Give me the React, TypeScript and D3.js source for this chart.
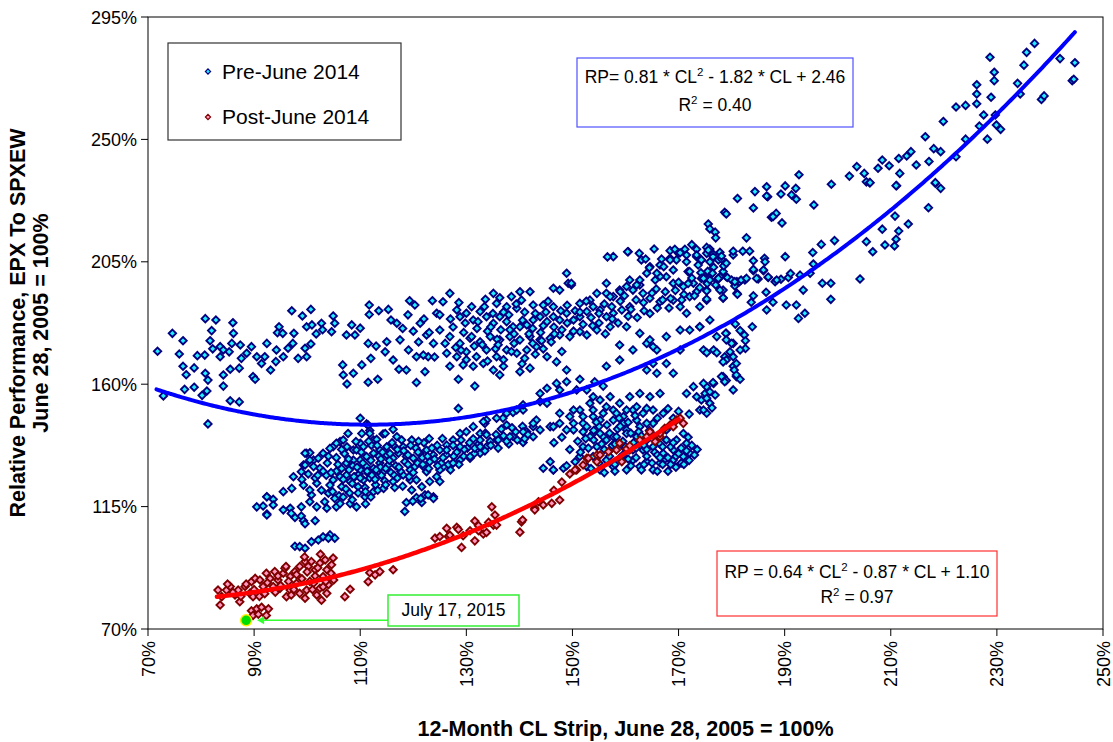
import React from "react";
import * as d3 from "d3";

// ---------- DATA (percent units) ----------
const preJune2014: [number, number][] = [
  [71.8,172.1],[74.6,178.7],[76.6,176.0],[75.9,171.1],[76.6,166.6],[77.2,163.5],[78.7,166.0],[76.9,158.1],[78.7,158.9],[80.2,155.9],
  [81.1,157.5],[81.3,145.4],[80.8,184.1],[82.8,183.6],[86.0,182.6],[82.0,179.7],[81.7,176.0],[82.2,173.0],[83.6,173.8],[79.3,170.5],
  [80.7,170.7],[83.6,170.1],[84.2,172.6],[85.3,171.9],[86.1,178.7],[85.8,175.0],[87.4,174.4],[80.8,164.0],[81.3,161.5],[84.2,163.4],
  [85.5,165.5],[84.2,159.3],[85.5,153.9],[87.2,153.5],[87.2,165.9],[87.6,169.5],[88.6,171.4],[89.5,173.8],[90.5,170.1],[89.8,162.8],
  [90.2,161.8],[91.4,167.6],[92.0,170.1],[92.4,175.0],[93.1,165.2],[94.2,172.6],[94.1,168.3],[94.7,181.1],[94.4,178.9],[95.4,178.7],
  [95.5,170.1],[96.4,173.2],[97.1,187.0],[99.1,185.1],[100.7,187.5],[97.5,178.7],[97.3,175.0],[98.3,169.5],[99.6,173.2],[99.9,170.1],
  [100.7,174.8],[99.9,181.1],[100.9,181.8],[101.7,178.5],[102.7,182.4],[102.9,180.0],[104.9,185.1],[105.2,182.4],[104.6,179.3],[107.4,178.1],
  [108.4,181.8],[109.0,178.1],[110.0,180.6],[106.7,167.1],[106.8,163.4],[107.5,160.1],[108.7,164.0],[110.3,167.1],[111.5,175.0],[112.0,169.5],
  [111.7,189.1],[111.7,185.6],[113.5,187.0],[115.3,187.5],[113.0,174.0],[114.7,171.9],[116.2,168.9],[111.5,160.7],[113.3,161.8],[115.0,175.6],
  [115.8,183.6],[116.9,182.4],[119.3,190.7],[120.3,189.1],[117.5,176.3],[119.1,172.6],[117.3,165.5],[118.7,165.2],[120.6,160.6],[122.2,164.6],
  [122.8,170.1],[123.8,175.0],[121.3,182.4],[122.5,178.1],[123.6,190.7],[124.4,186.1],[120.6,170.1],[121.9,170.7],[110.0,147.5],[111.2,145.4],
  [111.8,143.0],[114.3,141.7],[116.2,143.4],[107.7,141.9],[72.9,155.7],[99.9,134.6],[101.2,132.1],[103.0,134.6],[104.9,137.0],[106.2,138.9],
  [108.7,135.8],[110.0,138.3],[112.5,139.5],[97.4,126.0],[99.3,130.3],
  [128.5,151.1],[111.5,145.0],[109.2,138.9],[110.3,141.9],[111.8,141.9],[113.1,139.7],[114.7,141.9],[116.9,140.7],[119.7,139.5],[106.8,139.5],
  [105.5,138.3],[104.3,136.4],[102.1,132.8],[100.5,134.8],[99.6,134.6],[100.5,132.1],[99.6,130.3],[101.2,129.7],[102.4,129.1],[98.9,127.8],
  [97.1,121.7],[95.5,120.5],[92.4,118.6],[93.6,117.7],[90.5,114.9],[91.7,115.2],[93.6,115.6],[92.4,112.3],[96.8,114.4],[97.7,111.0],
  [98.9,111.5],[99.3,109.8],[101.5,109.8],[98.9,114.9],[100.5,116.8],[100.8,119.3],[101.8,114.9],[99.3,122.9],[100.5,121.1],[101.8,123.6],
  [103.3,116.8],[104.0,119.9],[103.7,114.4],[105.5,114.9],[106.2,116.1],[108.1,116.1],[109.3,114.9],[110.9,118.6],[112.5,120.5],[114.4,121.7],
  [116.2,124.2],[118.1,126.6],[119.4,128.5],[104.3,122.9],[104.9,124.8],[106.2,126.0],[107.4,126.6],[106.5,122.3],[108.1,124.2],[109.0,126.0],
  [109.6,122.3],[110.6,124.8],[111.5,127.3],[111.2,129.7],[112.5,129.1],[113.7,131.0],[113.1,126.0],[114.4,127.8],[115.3,130.3],[116.2,132.8],
  [117.2,134.6],[115.0,134.0],[113.7,135.8],[112.5,134.6],[111.2,133.4],[110.0,132.1],[108.7,132.1],[107.4,131.0],[109.3,135.8],[110.6,137.0],
  [112.1,137.6],[115.0,137.0],[116.2,137.6],[118.1,137.0],[118.7,133.4],[120.0,132.8],[121.3,134.6],[122.5,135.8],[123.8,134.0],[125.0,135.8],
  [126.3,137.6],[127.5,139.5],[128.8,141.9],[130.0,142.5],[131.3,139.9],[132.6,141.9],[133.5,145.6],[133.8,146.8],[136.9,147.5],[137.6,145.0],
  [138.8,149.6],[138.8,140.8],[140.7,138.6],[141.4,142.5],[142.6,144.4],[143.2,146.8],[142.6,140.7],[135.7,139.5],[133.8,137.0],[132.6,134.6],
  [130.7,132.8],[128.8,132.1],[127.5,131.0],[125.7,129.7],[123.1,131.5],[121.9,129.7],[120.3,129.7],[122.5,127.8],[119.4,124.8],[120.6,124.8],
  [121.6,122.3],[123.1,124.2],[125.0,124.2],[119.7,121.1],[120.6,118.3],[121.6,116.5],[118.7,116.5],[118.4,113.2],[123.8,118.6],[122.2,119.3],
  [125.0,128.5],[124.4,126.0],[140.7,150.5],[97.7,100.4],[98.6,100.3],[99.6,99.7],[100.8,102.1],[102.1,102.7],[103.0,103.9],[104.3,104.6],
  [105.2,103.4],[104.0,103.4],[92.4,111.9],[92.4,118.6],[95.5,113.8],[97.0,112.5],[99.6,108.7],[119.9,117.0],[121.4,118.0],[122.8,119.3],
  [123.8,118.0],
  [105.5,128.0],[106.8,125.0],[107.9,128.5],[108.5,123.5],[109.8,127.0],[110.9,122.0],[111.8,125.5],[112.9,123.0],[113.8,129.5],[114.6,124.5],
  [115.8,127.5],[116.7,130.0],[117.6,128.0],[118.4,131.5],[119.2,126.0],[120.8,131.0],[121.7,133.0],[122.9,129.0],[124.0,132.5],[125.3,131.0],
  [126.2,134.0],[127.0,128.5],[128.2,135.0],[129.5,133.5],[130.2,136.5],[131.5,134.5],[132.3,138.0],[133.5,135.5],[134.5,139.0],[136.0,136.5],
  [137.0,141.0],[138.0,138.0],[139.3,142.5],[141.0,140.0],[103.6,126.5],[104.8,120.5],[106.0,119.0],[107.3,121.5],[108.5,117.5],[109.6,120.0],
  [111.0,116.0],[112.0,118.5],[113.3,121.0],[114.0,126.5],[102.7,121.0],[101.5,125.5],[100.2,127.0],[99.0,125.0],[103.8,131.0],[105.5,133.0],
  [107.0,134.5],[108.6,130.0],[110.0,128.6],[112.0,132.0],[113.5,133.5],[115.5,132.0],[117.0,136.0],[119.0,134.0],[120.5,136.5],[122.0,138.5],
  [124.5,137.5],[125.5,140.0],[127.5,137.5],[129.0,139.5],
  [104.5,127.5],[105.8,130.5],[106.5,129.0],[107.8,132.5],[108.8,126.0],[109.4,129.5],[110.5,131.0],[111.3,128.0],[112.2,126.5],[113.0,128.5],
  [113.9,132.5],[114.8,129.0],[115.6,134.5],[116.4,126.5],[117.3,129.5],[118.2,135.5],[119.0,130.5],[120.0,127.5],[120.9,135.0],[121.8,130.5],
  [122.7,133.5],[123.5,136.5],[124.6,130.0],[125.6,133.0],[126.6,130.5],[127.6,133.5],[128.6,130.5],[129.6,136.0],[130.6,138.5],[131.6,136.5],
  [132.6,139.5],[133.6,142.0],[134.6,137.5],[135.6,141.5],[136.6,143.5],[137.6,139.0],[138.6,144.0],[139.6,139.5],[140.6,144.5],[141.6,141.5],
  [110.2,135.0],[111.6,139.0],[113.2,137.5],[114.2,135.0],[116.0,138.5],[117.8,139.5],[119.5,137.5],[121.0,139.0],[123.0,140.0],[103.0,128.0],
  [102.0,126.5],[104.0,133.5],[106.5,136.0],[107.5,137.0],[108.0,120.0],[110.0,125.5],[111.0,120.5],[112.8,125.0],[114.8,123.0],[116.5,122.0],
  [117.0,125.5],[118.0,122.5],[105.2,118.0],[106.8,118.5],
  [157.7,206.9],[160.5,208.7],[162.6,208.1],[163.0,205.7],[164.6,203.2],[166.5,203.8],[168.4,206.3],[170.0,208.1],[171.5,205.0],[173.4,206.9],
  [175.3,208.1],[177.5,205.7],[180.3,207.5],[171.8,201.4],[173.7,203.8],[175.9,200.8],[178.4,201.4],[164.0,200.8],[165.6,198.3],[167.7,199.5],
  [169.0,197.1],[170.9,195.9],[172.8,197.1],[174.7,199.5],[177.2,198.3],[179.0,199.5],[181.0,197.7],[148.9,200.8],[146.4,195.3],[147.6,194.6],
  [149.2,197.1],[149.8,196.5],[162.7,196.5],[161.4,194.6],[163.3,193.4],[164.6,191.6],[166.5,190.3],[169.0,190.9],[170.3,188.5],[172.1,192.2],
  [174.0,188.5],[175.3,190.9],[178.4,194.6],[181.0,193.4],[178.4,191.6],[175.3,194.6],[173.4,194.0],[171.5,186.1],[160.8,188.5],[159.3,187.3],
  [157.7,186.1],[156.4,184.8],[155.2,187.3],[153.9,188.5],[152.7,186.7],[151.4,184.8],[150.2,183.6],[148.9,186.1],[147.6,183.6],[146.4,184.8],
  [145.2,183.0],[143.9,184.8],[142.6,183.6],[141.4,181.8],[140.1,181.1],[142.0,194.0],[140.1,194.0],[140.4,190.9],[138.5,192.2],[136.3,191.8],
  [135.1,193.4],[133.6,191.2],[126.9,193.4],[125.6,190.3],[135.7,189.7],[137.6,188.5],[139.5,187.9],[142.6,189.1],[144.5,189.1],[146.4,188.5],
  [151.4,189.7],[153.3,190.9],[154.6,193.4],[156.4,193.4],[157.7,192.2],[158.9,194.6],[160.2,195.9],[160.8,198.3],[156.4,197.1],
  [125.0,179.9],[128.2,187.3],[128.8,184.8],[130.0,186.1],[131.3,183.6],[132.6,186.7],[133.8,184.8],[135.1,182.4],[136.3,184.8],[137.6,183.0],
  [138.8,181.1],[126.9,177.5],[128.8,175.0],[130.7,176.9],[132.6,175.6],[134.5,177.5],[136.3,176.3],[138.2,177.5],[140.1,176.3],[142.0,177.5],
  [143.9,176.3],[145.8,176.9],[147.6,178.1],[149.5,177.5],[151.4,179.3],[152.7,178.1],[154.6,179.9],[157.1,181.1],[158.9,174.4],[126.3,171.4],
  [128.2,170.1],[130.0,171.9],[131.9,170.1],[133.8,172.6],[135.7,170.1],[137.6,172.6],[139.5,171.4],[141.4,172.6],[143.2,173.8],[145.2,170.1],
  [147.0,168.2],[126.9,166.6],[129.4,167.1],[131.3,166.6],[133.2,167.6],[135.1,165.2],[137.0,166.6],[128.5,161.8],[131.6,159.3],[136.3,163.4],
  [140.1,164.6],[142.0,165.9],[148.9,165.2],[151.4,161.8],[154.2,160.9],[148.9,160.9],[147.0,160.3],[150.8,157.9],[152.7,157.9],[145.2,158.5],
  [143.9,156.6],[153.9,155.4],[155.8,159.3],[156.4,166.6],[158.9,168.9],[161.4,172.6],[164.0,175.0],[165.9,172.6],[167.7,177.5],[170.3,179.9],
  [172.1,179.9],[174.0,181.1],[175.9,183.6],[177.2,177.5],[179.0,178.7],[180.3,175.0],[178.7,170.1],[180.3,166.6],[178.4,162.8],[180.9,162.8],
  [165.2,167.6],[165.9,164.0],[167.7,167.6],[169.0,164.0],[164.0,165.2],[165.2,173.8],[160.2,181.1],[162.7,178.7],[164.6,176.3],[170.3,172.6],
  [174.7,172.6],[176.6,172.6],
  [127.5,181.0],[129.5,179.0],[131.0,188.5],[132.0,180.5],[134.0,179.5],[135.0,186.0],[136.5,180.0],[138.0,185.5],[139.0,178.5],[141.0,186.5],
  [142.5,180.5],[144.0,179.0],[145.0,186.5],[146.5,181.0],[148.0,180.0],[149.0,189.0],[150.5,187.0],[152.0,182.0],[153.5,184.5],[155.0,182.5],
  [156.0,189.5],[157.5,184.0],[159.0,190.5],[160.5,185.0],[162.0,191.0],[163.5,187.0],[165.0,193.5],[166.0,188.0],[167.5,194.0],[168.5,191.5],
  [170.0,197.5],[171.0,193.0],[172.5,199.0],[174.0,195.5],[175.5,201.5],[177.0,196.5],[178.5,203.5],[128.0,173.5],[130.0,169.0],[133.0,174.5],
  [135.5,173.0],[137.0,169.0],[139.0,175.0],[141.0,169.5],[143.0,171.0],[144.5,181.5],[126.0,175.0],[125.0,185.5],[124.0,170.0],[123.0,179.0],
  [122.0,184.0],[121.0,175.5],[120.0,179.5],[119.0,185.5],[118.0,180.5],
  [127.0,184.0],[128.6,190.0],[129.8,182.5],[131.0,177.5],[132.2,183.0],[133.4,188.5],[134.6,181.0],[135.8,176.5],[137.0,186.5],[138.2,180.0],
  [139.4,189.5],[140.6,183.5],[141.8,178.5],[143.0,186.0],[144.2,176.0],[145.4,190.5],[146.6,178.5],[147.8,187.0],[149.0,182.5],[150.2,179.5],
  [151.4,186.5],[152.6,190.5],[153.8,181.5],[155.0,186.0],[156.2,178.5],[157.4,188.5],[158.6,182.5],[159.8,192.5],[161.0,187.5],[162.2,184.5],
  [163.4,190.0],[164.6,186.0],[165.8,195.0],[167.0,191.0],[168.2,188.0],[169.4,194.5],[170.6,191.0],[171.8,197.0],[173.0,192.5],[174.2,201.0],
  [175.4,197.0],[176.6,203.0],[177.8,199.5],[179.0,204.5],[129.0,172.5],[131.5,174.0],[134.0,168.5],[136.0,174.5],[138.5,172.0],[140.5,167.5],
  [142.5,175.0],[144.5,173.0],[146.0,175.5],[148.0,172.0],
  [147.6,157.9],[143.9,153.6],[140.7,152.4],[139.5,150.5],[137.6,149.3],[135.7,147.5],[133.2,146.2],[131.3,144.4],[133.8,141.4],[136.0,139.5],
  [132.6,137.0],[130.7,133.4],[127.5,131.0],[126.3,135.8],[128.8,137.0],[138.2,140.7],[140.7,142.5],[142.6,145.6],[143.9,143.2],[145.8,144.4],
  [147.6,145.6],[149.5,148.1],[151.4,150.5],[153.3,153.0],[155.2,154.2],[157.1,155.4],[158.9,153.0],[160.8,155.4],[162.7,156.6],[164.6,155.4],
  [166.5,156.6],[150.2,143.2],[152.0,145.6],[153.9,148.1],[155.8,149.3],[157.7,150.5],[159.6,148.1],[161.4,150.5],[163.3,149.3],[165.2,150.5],
  [167.1,149.3],[169.0,147.5],[171.5,156.6],[173.4,155.4],[175.3,159.1],[175.9,153.0],[172.8,159.1],[176.6,160.3],[179.0,161.4],[180.3,157.9],
  [153.9,141.9],[155.8,140.7],[157.7,140.7],[160.2,143.2],[162.7,144.4],[165.2,145.6],
  [145.2,153.0],[147.6,149.3],[150.2,150.5],[152.0,148.1],[153.9,150.5],[156.4,151.7],[158.3,149.3],[160.2,150.5],[162.1,151.7],[164.0,151.1],
  [174.0,150.5],[175.3,149.3],[146.4,144.4],[148.9,143.2],[150.2,145.6],[152.7,144.4],[155.2,146.8],[157.7,146.8],[159.6,145.6],[162.1,146.8],
  [164.0,145.6],[153.3,140.7],[155.2,141.9],[156.4,139.5],[158.3,140.7],[160.2,141.9],[162.1,140.7],[164.0,139.5],[165.9,140.7],[167.7,139.5],
  [169.6,139.5],[171.5,138.3],[154.6,137.0],[157.1,135.8],[159.6,137.0],[161.4,135.8],[163.3,135.8],[165.2,137.0],[167.1,134.6],[169.0,135.8],
  [170.9,133.4],[172.1,134.6],[153.9,133.4],[156.4,132.1],[158.9,132.8],[161.4,132.1],[164.0,131.5],[166.5,131.0],[169.0,132.1],[152.7,129.7],
  [155.2,128.5],[157.7,129.7],[160.2,128.5],[162.7,129.7],[165.2,128.5],[145.8,131.5],[148.3,129.1],[146.4,128.5],[151.4,133.4],[152.0,137.0],
  [170.9,141.9],[167.7,143.2],[144.5,129.1],[146.4,128.5],[148.9,130.0],
  [152.5,140.0],[154.0,143.0],[155.5,138.0],[156.5,145.0],[157.5,137.5],[158.5,143.5],[159.5,139.0],[160.5,146.0],[161.5,138.5],[162.5,142.5],
  [163.5,137.5],[164.5,143.0],[165.5,135.0],[166.5,138.0],[167.5,132.5],[168.5,137.0],[169.5,133.5],[170.5,136.5],[171.5,135.5],[153.5,129.0],
  [155.0,131.0],[156.0,127.5],[157.0,133.5],[158.0,130.5],[159.5,134.0],[161.0,130.0],[162.0,133.0],[163.0,128.5],[164.0,133.5],[165.0,131.0],
  [166.0,128.0],[167.0,130.5],[168.0,128.0],[169.5,129.5],[170.5,131.0],[172.5,137.5],[173.5,136.0],[171.8,140.5],[150.5,131.5],[151.5,135.0],
  [149.5,136.0],[148.0,140.5],[146.5,138.5],
  [151.0,139.0],[152.0,142.5],[153.0,136.5],[154.0,139.5],[155.0,144.5],[156.0,136.0],[157.0,142.0],[158.0,138.0],[159.0,144.5],[160.0,137.0],
  [161.0,142.0],[162.0,136.5],[163.0,141.0],[164.0,136.0],[165.0,141.5],[166.0,134.0],[167.0,137.0],[168.0,133.0],[169.0,138.5],[170.0,134.5],
  [171.0,130.5],[172.0,132.0],[173.0,134.0],[158.0,128.0],[160.5,132.5],[163.5,130.5],[166.5,133.0],[168.5,130.5],[154.5,146.0],[158.8,147.5],
  [161.8,148.5],[166.0,147.5],[168.0,151.0],[170.0,150.0],[172.0,149.0],
  [181.1,228.3],[184.4,230.8],[186.6,232.6],[186.8,228.9],[189.3,229.9],[190.1,232.9],[191.3,229.6],[192.1,232.0],[192.2,228.0],[195.5,225.9],
  [198.8,233.5],[205.4,234.4],[206.0,234.1],[211.1,233.0],[184.1,224.8],[178.7,223.2],[179.0,222.6],[187.5,221.4],[188.4,222.8],[189.5,219.3],
  [175.6,218.9],[175.9,217.1],[176.9,215.9],[177.0,213.8],[182.8,213.8],[175.3,210.3],[175.9,209.7],[176.5,207.9],[177.8,208.5],[178.1,206.0],
  [180.3,208.9],[182.1,208.9],[183.4,208.9],[184.1,205.4],[186.2,206.3],[190.1,206.9],[174.3,205.7],[175.9,205.0],[176.4,200.8],[174.3,198.9],
  [175.9,198.3],[177.5,198.7],[179.2,199.2],[180.0,198.3],[180.6,196.1],[181.5,197.7],[182.5,198.3],[184.1,201.7],[185.0,198.7],[186.0,201.7],
  [186.9,199.2],[188.2,197.7],[189.3,198.6],[190.7,199.2],[191.1,200.7],[192.9,200.1],[195.3,208.4],[196.9,211.4],[199.4,212.8],[195.4,204.2],
  [194.8,200.8],[193.5,194.6],[190.3,189.1],[192.2,189.1],[192.6,184.2],[193.8,186.1],[186.6,187.3],[187.8,190.1],[186.5,193.8],[184.1,192.5],
  [183.7,190.1],[181.1,193.1],[178.4,191.8],[177.8,194.6],[175.3,191.3],[175.3,194.3],[197.1,197.1],[198.7,197.1],[198.7,191.2],[204.2,198.7],
  [205.4,212.4],[206.6,208.7],[208.4,217.0],[208.9,211.2],[210.7,210.8],[211.0,213.3],[211.5,216.3],[213.3,218.9],[210.8,221.8],[217.1,224.9],
  [218.4,233.9],[219.4,232.0],[174.0,181.1],[178.9,178.7],[180.7,182.1],[181.6,179.7],[182.4,178.1],[183.9,181.1],[182.6,176.0],[182.6,173.1],
  [179.0,176.3],[180.0,175.0],[175.3,171.6],[177.2,171.6],[179.7,171.9],[181.6,172.6],[180.3,170.1],[179.0,168.9],[180.9,167.6],[178.4,168.2],
  [180.5,165.2],[180.9,163.4],[181.6,161.8],[178.1,162.8],[178.7,160.9],[176.5,160.6],[174.7,160.3],[175.0,156.6],[175.9,157.2],[176.9,156.0],
  [174.3,154.2],[175.3,154.8],[174.7,150.5],[176.3,151.3],
  [186.6,229.2],[192.7,237.0],[202.2,236.5],[203.6,240.0],[205.0,237.5],[206.1,234.1],[207.6,239.4],[208.4,242.4],[209.7,240.3],[211.0,233.0],
  [211.7,237.5],[211.5,243.0],[213.0,243.9],[213.8,245.5],[214.8,240.6],[216.5,251.0],[217.2,241.9],[218.1,246.6],[219.4,245.5],[218.4,234.1],
  [219.9,256.6],[222.3,243.6],[222.3,261.9],[224.1,262.5],[226.2,270.1],[226.2,266.7],[226.2,263.1],[224.1,250.1],[226.7,254.9],[227.5,259.0],
  [228.2,250.1],[228.7,280.2],[228.9,265.5],[229.5,274.7],[229.5,271.6],[229.7,259.0],[229.9,255.3],[230.7,253.7],[233.9,270.6],[234.4,266.7],
  [235.1,277.3],[235.6,282.0],[237.1,285.3],[238.4,264.7],[238.9,266.0],[241.9,279.7],[244.2,271.6],[244.5,272.1],[244.7,278.2],
  [156.6,206.8],[160.4,208.7],[165.4,209.7],[163.8,206.0],[164.5,202.8],[166.8,206.0],[168.4,209.1],[169.3,209.6],[170.3,208.3],[171.2,209.6],
  [172.5,211.3],[173.4,209.6],[171.5,207.5],[169.6,205.7],[168.4,205.7],[167.2,203.2],[169.0,202.0],[173.4,207.5],[174.3,205.7],[175.6,209.3],
  [176.5,206.9],[178.1,207.1],[166.5,199.6],[165.9,200.8],[162.7,198.3],[162.1,196.5],[159.0,194.0],[157.1,192.2],[149.8,197.1],[172.1,201.4],
  [174.7,198.9],[177.5,198.9],[180.6,197.7],[181.8,198.3],[182.8,198.9],[184.7,198.9],[186.3,205.0],[184.1,202.2],[186.0,202.0],[186.9,199.4],
  [188.5,198.3],[187.8,221.6]
];

const postJune2014: [number, number][] = [
  [83.2,84.3],[83.6,78.8],[83.9,81.9],[84.8,84.3],[85.5,85.6],[86.4,82.5],[87.0,84.3],[87.3,80.0],[88.3,85.6],[89.2,83.1],
  [89.8,81.9],[89.5,87.4],[90.2,88.6],[91.1,88.0],[91.7,85.6],[92.3,90.5],[93.0,88.6],[93.9,91.1],[94.5,88.0],[95.5,90.5],
  [95.8,92.3],[96.8,89.3],[97.7,91.1],[98.0,86.8],[98.6,93.0],[99.6,94.8],[100.2,93.0],[100.8,94.8],[101.5,91.8],[102.4,94.2],
  [103.4,95.4],[103.7,91.8],[104.6,93.6],[104.9,96.1],[103.0,89.3],[104.0,86.3],[102.4,85.0],[101.2,86.8],[99.9,84.3],[98.6,83.1],
  [96.8,84.3],[94.9,85.0],[93.6,85.6],[96.1,81.9],[99.6,81.3],[101.8,82.5],[103.7,83.1],[102.7,80.6],[107.1,81.9],[108.1,84.6],
  [111.8,90.7],[111.5,87.4],[112.8,89.9],[113.7,91.1],[116.2,91.8],[89.5,76.7],[90.5,77.4],[91.4,78.0],[92.7,77.4],[89.8,75.0],
  [90.8,75.4],[92.3,75.0],
  [85.0,86.5],[86.0,83.5],[87.5,82.0],[88.5,86.5],[90.0,84.5],[91.0,82.0],[92.5,87.0],[94.0,83.5],[95.0,86.0],[96.5,87.5],
  [97.5,84.5],[99.0,88.5],[100.5,87.5],[101.5,89.5],[102.0,92.5],[103.5,87.5],[104.5,90.5],[100.0,91.0],[98.0,90.0],[96.0,93.0],
  [94.5,89.5],[92.0,83.0],[97.0,82.5],[101.0,84.5],[103.0,85.5],[105.0,88.0],[99.5,96.5],[102.5,97.5],
  [124.1,103.4],[125.0,104.0],[126.3,107.0],[126.6,104.0],[128.2,107.4],[129.1,100.0],[129.4,104.3],[130.7,106.1],[131.6,109.7],[132.3,106.1],
  [131.6,102.4],[133.2,104.9],[134.2,109.2],[134.8,114.9],[135.4,111.9],[135.1,108.2],[140.4,109.4],[140.1,105.6],[142.9,114.4],[144.5,115.6],
  [146.1,116.2],[147.6,117.4],[143.6,116.8],[126.9,104.5],[128.5,106.6],[132.3,108.0],[133.8,105.5],[135.7,108.2],[140.6,110.1],[142.9,113.8],
  [148.0,124.0],[149.5,127.0],[146.5,121.0],
  [150.8,128.5],[152.7,132.8],[154.6,134.0],[156.8,135.2],[158.9,138.3],[160.8,135.8],[162.7,139.5],[164.6,142.5],[166.5,140.7],[168.4,145.0],
  [169.6,146.8],[159.3,131.5],[150.5,128.5],[152.0,130.3],[153.0,132.8],[154.6,131.5],[155.2,134.0],[158.3,135.8],[160.2,136.2],[160.8,137.4],
  [164.0,140.7],[165.6,138.9],[166.5,141.9],[167.4,143.8],[169.0,144.4],[170.3,147.5],[170.9,145.6]
];

const july17_2015: [number, number] = [88.5, 73.2];

const xTicks = [70, 90, 110, 130, 150, 170, 190, 210, 230, 250];
const yTicks = [70, 115, 160, 205, 250, 295];

// trendline coefficients (RP = a*CL^2 + b*CL + c, ratio units; shown rounded to 2 dp) and fitted ranges (%)
const preFit = [0.814, -1.816, 2.464];
const postFit = [0.64, -0.87, 1.10];
const preFitRange = [71.6, 244.7];
const postFitRange = [83, 170];

const W = 1113, H = 742;
const FONT = "Arial, 'Liberation Sans', Helvetica, sans-serif";

const diamond = (r: number) => `M0,${-r}L${r},0L0,${r}L${-r},0Z`;

export default function App() {
  const x = d3.scaleLinear().domain([70, 250]).range([148, 1103]);
  const y = d3.scaleLinear().domain([70, 295]).range([629, 17]);

  const fitPts = (coef: number[], range: number[]) =>
    d3.range(range[0], range[1] + 0.001, 0.5).concat([range[1]]).map((c) => {
      const r = c / 100;
      return [c, 100 * (coef[0] * r * r + coef[1] * r + coef[2])] as [number, number];
    });
  const line = d3.line<[number, number]>().x((d) => x(d[0])).y((d) => y(d[1])).curve(d3.curveMonotoneX);

  const d7 = diamond(3.7);
  const [x0, x1] = x.range();
  const [y0, y1] = y.range();

  const blueFill = "#22EEFF", blueStroke = "#000080";
  const redFill = "#FF99C0", redStroke = "#800000";

  return (
    <svg width={W} height={H} style={{ position: "absolute", left: 0, top: 0, background: "#fff" }} fontFamily={FONT}>
      <rect x={0} y={0} width={W} height={H} fill="#fff" />
      <rect x={x0} y={y1} width={x1 - x0} height={y0 - y1} fill="none" stroke="#000" strokeWidth={1} />

      {yTicks.map((t) => (
        <g key={"y" + t}>
          <line x1={x0 - 7} x2={x0} y1={y(t)} y2={y(t)} stroke="#000" />
          <text x={x0 - 11} y={y(t) + 6.5} textAnchor="end" fontSize={18}>{t}%</text>
        </g>
      ))}
      {xTicks.map((t) => (
        <g key={"x" + t}>
          <line x1={x(t)} x2={x(t)} y1={y0} y2={y0 + 7} stroke="#000" />
          <text transform={`translate(${x(t) + 6.5},${y0 + 12}) rotate(-90)`} textAnchor="end" fontSize={18}>{t}%</text>
        </g>
      ))}

      <text x={(x0 + x1) / 2} y={736} textAnchor="middle" fontSize={21.5} fontWeight="bold">12-Month CL Strip, June 28, 2005 = 100%</text>
      <g transform={`translate(25,${(y0 + y1) / 2}) rotate(-90)`}>
        <text x={0} y={0} textAnchor="middle" fontSize={21.5} fontWeight="bold">Relative Performance, EPX To SPXEW</text>
        <text x={0} y={23} textAnchor="middle" fontSize={21.5} fontWeight="bold">June 28, 2005 = 100%</text>
      </g>

      <g>
        {preJune2014.map((d, i) => (
          <path key={"p" + i} d={d7} transform={`translate(${x(d[0])},${y(d[1])})`} fill={blueFill} stroke={blueStroke} strokeWidth={1.9} />
        ))}
      </g>
      <g>
        {postJune2014.map((d, i) => (
          <path key={"q" + i} d={d7} transform={`translate(${x(d[0])},${y(d[1])})`} fill={redFill} stroke={redStroke} strokeWidth={1.9} />
        ))}
      </g>

      <path d={line(fitPts(preFit, preFitRange)) || ""} fill="none" stroke="#0000FF" strokeWidth={4} strokeLinecap="round" />
      <path d={line(fitPts(postFit, postFitRange)) || ""} fill="none" stroke="#FF0000" strokeWidth={4.5} strokeLinecap="round" />

      <circle cx={x(july17_2015[0])} cy={y(july17_2015[1])} r={5.5} fill="#00DD00" stroke="#FFEE00" strokeWidth={1.5} />
      <line x1={388} x2={x(july17_2015[0]) + 16} y1={y(july17_2015[1])} y2={y(july17_2015[1])} stroke="#33FF33" strokeWidth={1.5} />
      <path d={`M${x(july17_2015[0]) + 11},${y(july17_2015[1])}l7,-4l0,8z`} fill="#33FF33" />
      <rect x={388} y={595} width={131} height={31} fill="#fff" stroke="#33EE33" strokeWidth={1.5} />
      <text x={453.5} y={616} textAnchor="middle" fontSize={17.5}>July 17, 2015</text>

      <rect x={168} y={43} width={233} height={97} fill="#fff" stroke="#333" strokeWidth={1.2} />
      <path d={diamond(2.6)} transform="translate(208,71.5)" fill={blueFill} stroke={blueStroke} strokeWidth={1.2} />
      <text x={222} y={78.5} fontSize={21}>Pre-June 2014</text>
      <path d={diamond(2.6)} transform="translate(208,117)" fill={redFill} stroke={redStroke} strokeWidth={1.2} />
      <text x={222} y={124} fontSize={21}>Post-June 2014</text>

      <rect x={577} y={58} width={276} height={69} fill="#fff" stroke="#5050FF" strokeWidth={1.2} />
      <text x={715} y={83} textAnchor="middle" fontSize={17.5}>
        RP= 0.81 * CL<tspan dy={-7} fontSize={11.5}>2</tspan><tspan dy={7}> - 1.82 * CL + 2.46</tspan>
      </text>
      <text x={715} y={111} textAnchor="middle" fontSize={17.5}>
        R<tspan dy={-7} fontSize={11.5}>2</tspan><tspan dy={7}> = 0.40</tspan>
      </text>

      <rect x={717} y={551} width={280} height={65} fill="#fff" stroke="#FF3030" strokeWidth={1.2} />
      <text x={857} y={578} textAnchor="middle" fontSize={17.5}>
        RP = 0.64 * CL<tspan dy={-7} fontSize={11.5}>2</tspan><tspan dy={7}> - 0.87 * CL + 1.10</tspan>
      </text>
      <text x={857} y={603} textAnchor="middle" fontSize={17.5}>
        R<tspan dy={-7} fontSize={11.5}>2</tspan><tspan dy={7}> = 0.97</tspan>
      </text>
    </svg>
  );
}
